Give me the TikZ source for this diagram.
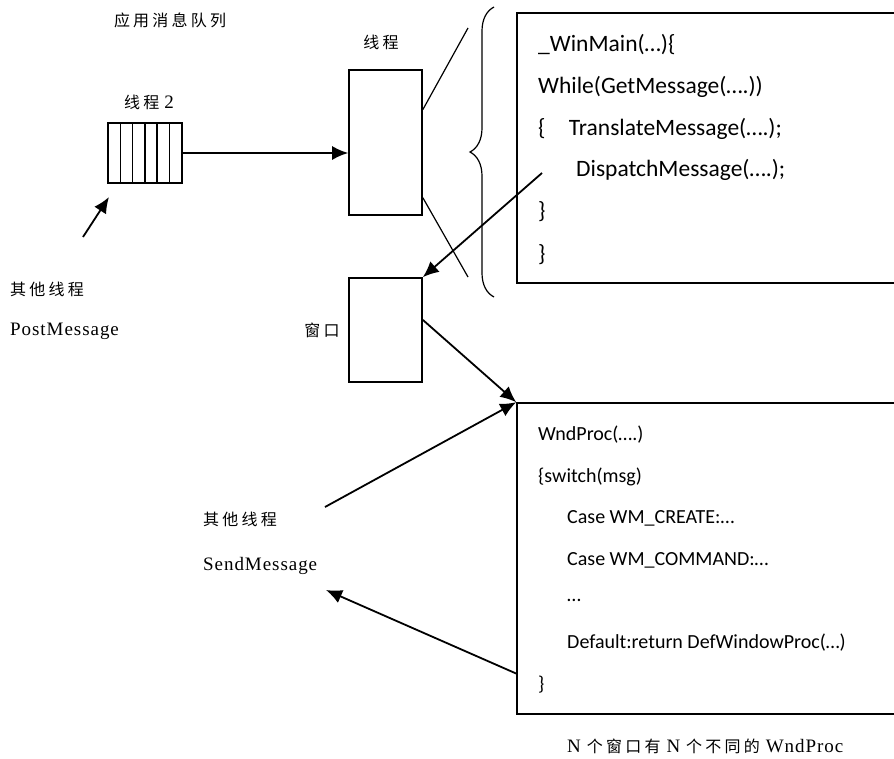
\documentclass[tikz,border=0pt]{standalone}
\usepackage{fontspec}
\setmainfont{Carlito}
\newfontfamily\cjkfont[LetterSpace=20]{Noto Sans CJK SC}
\newfontfamily\lblfont[LetterSpace=5]{Liberation Serif}
\newcommand{\latword}[1]{{\fontsize{19}{21}\selectfont\lblfont #1}}
\usetikzlibrary{arrows.meta,decorations.pathreplacing,calc}
\tikzset{
	frame/.style={draw,line width=1.6pt,inner sep=0pt},
	cell/.style={draw,line width=1.5pt,minimum width=12.3pt,minimum height=60pt,inner sep=0pt},
	lbl/.style={inner sep=0pt,font=\fontsize{16}{18}\selectfont\cjkfont},
	latn/.style={inner sep=0pt,font=\fontsize{19}{21}\selectfont\lblfont},
	codeA/.style={anchor=west,inner sep=0pt,font=\fontsize{23.5}{26}\selectfont},
	codeB/.style={anchor=west,inner sep=0pt,font=\fontsize{20}{22}\selectfont},
	arr/.style={line width=1.8pt,->,>={Latex[length=16pt,width=14pt]}},
}
\begin{document}
\begin{tikzpicture}[x=1pt,y=-1pt]
	\useasboundingbox (0,0) rectangle (894,758);

	% queue of thread 2
	\node[lbl] (title) at (170,20) {应用消息队列};
	\node[lbl] (qlabel) at (149,102) {线程\hspace{5pt}\latword{2}};
	\foreach \i in {1,...,6}
		\node[cell] (q\i) at ({108+12.3*(\i-0.5)},153) {};

	% thread and window
	\node[frame,minimum width=73pt,minimum height=145pt] (thread) at (385.5,142.5) {};
	\node[lbl] (tlabel) at (381,42) {线程};
	\node[frame,minimum width=73pt,minimum height=104pt] (win) at (385.5,330) {};
	\node[lbl] (wlabel) at (322,330) {窗口};

	% message loop (right side runs off the page)
	\node[frame,minimum width=390pt,minimum height=270pt] (loop) at (712,148) {};
	\node[codeA] (l1) at (538,45) {\_WinMain(…)\{};
	\node[codeA] (l2) at (538,87) {While(GetMessage(….))};
	\node[codeA] (l3) at (538,129) {\{\hspace{23.4pt}TranslateMessage(….);};
	\node[codeA] (l4) at (576,170) {DispatchMessage(….);};
	\node[codeA] (l5) at (538,212) {\}};
	\node[codeA] (l6) at (538,255) {\}};
	\draw[decorate,decoration={brace,amplitude=24pt,aspect=0.5},line width=1.2pt] (494,297) -- (494,7);

	% window procedure
	\node[frame,minimum width=390pt,minimum height=311pt] (proc) at (712,558.5) {};
	\node[codeB] (p1) at (538,435) {WndProc(….)};
	\node[codeB] (p2) at (538,477) {\{switch(msg)};
	\node[codeB] (p3) at (567,518) {Case WM\_CREATE:…};
	\node[codeB] (p4) at (567,560) {Case WM\_COMMAND:…};
	\node[codeB] (p5) at (567,600) {…};
	\node[codeB] (p6) at (567,643) {Default:return DefWindowProc(…)};
	\node[codeB] (p7) at (538,685) {\}};
	\node[lbl,anchor=west] (caption) at (567,746) {\latword{N}\hspace{6pt}个窗口有\hspace{6pt}\latword{N}\hspace{6pt}个不同的\hspace{6pt}\latword{WndProc}};

	% other threads
	\node[lbl,anchor=west] (postwho) at (10,289) {其他线程};
	\node[latn,anchor=west] (postname) at (10,331) {PostMessage};
	\node[lbl,anchor=west] (sendwho) at (203,519) {其他线程};
	\node[latn,anchor=west] (sendname) at (203,566) {SendMessage};

	\coordinate (postfrom) at (83,237);
	\coordinate (postto) at (109,197);
	\coordinate (bracetop) at (468,28);
	\coordinate (bracebot) at (468,277);
	\coordinate (dispatch) at (542,173);
	\coordinate (sendfrom) at (325,507);
	\coordinate (retto) at (326,590);

	\draw[arr] (q6.east) -- (q6.east -| thread.west);
	\draw[arr] (postfrom) -- (postto);
	\draw[line width=1.2pt] ($(thread.north east)!0.276!(thread.south east)$) -- (bracetop);
	\draw[line width=1.2pt] ($(thread.north east)!0.876!(thread.south east)$) -- (bracebot);
	\draw[arr] (dispatch) -- (win.north east);
	\draw[arr] ($(win.north east)!0.404!(win.south east)$) -- (proc.north west);
	\draw[arr] (sendfrom) -- (proc.north west);
	\draw[arr] ($(proc.north west)!0.868!(proc.south west)$) -- (retto);
\end{tikzpicture}
\end{document}
